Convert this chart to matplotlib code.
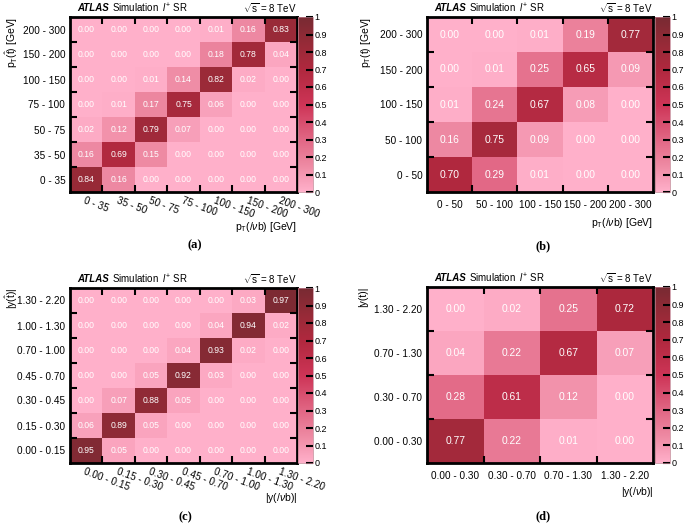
import numpy as np
import matplotlib
matplotlib.use("Agg")
import matplotlib.pyplot as plt
from matplotlib.colors import LinearSegmentedColormap

plt.rcParams["font.family"] = ["Liberation Sans", "DejaVu Sans"]
plt.rcParams["mathtext.fontset"] = "custom"
plt.rcParams["mathtext.rm"] = "Liberation Sans"
plt.rcParams["mathtext.it"] = "Liberation Sans:italic"

# bin labels
pt_bins_a = ["0 - 35", "35 - 50", "50 - 75", "75 - 100", "100 - 150", "150 - 200", "200 - 300"]
pt_bins_b = ["0 - 50", "50 - 100", "100 - 150", "150 - 200", "200 - 300"]
y_bins_c = ["0.00 - 0.15", "0.15 - 0.30", "0.30 - 0.45", "0.45 - 0.70", "0.70 - 1.00", "1.00 - 1.30", "1.30 - 2.20"]
y_bins_d = ["0.00 - 0.30", "0.30 - 0.70", "0.70 - 1.30", "1.30 - 2.20"]

# migration matrices, rows listed from lowest bin (bottom) to highest (top)
mig_a = [
    [0.84, 0.16, 0.00, 0.00, 0.00, 0.00, 0.00],
    [0.16, 0.69, 0.15, 0.00, 0.00, 0.00, 0.00],
    [0.02, 0.12, 0.79, 0.07, 0.00, 0.00, 0.00],
    [0.00, 0.01, 0.17, 0.75, 0.06, 0.00, 0.00],
    [0.00, 0.00, 0.01, 0.14, 0.82, 0.02, 0.00],
    [0.00, 0.00, 0.00, 0.00, 0.18, 0.78, 0.04],
    [0.00, 0.00, 0.00, 0.00, 0.01, 0.16, 0.83],
]
mig_b = [
    [0.70, 0.29, 0.01, 0.00, 0.00],
    [0.16, 0.75, 0.09, 0.00, 0.00],
    [0.01, 0.24, 0.67, 0.08, 0.00],
    [0.00, 0.01, 0.25, 0.65, 0.09],
    [0.00, 0.00, 0.01, 0.19, 0.77],
]
mig_c = [
    [0.95, 0.05, 0.00, 0.00, 0.00, 0.00, 0.00],
    [0.06, 0.89, 0.05, 0.00, 0.00, 0.00, 0.00],
    [0.00, 0.07, 0.88, 0.05, 0.00, 0.00, 0.00],
    [0.00, 0.00, 0.05, 0.92, 0.03, 0.00, 0.00],
    [0.00, 0.00, 0.00, 0.04, 0.93, 0.02, 0.00],
    [0.00, 0.00, 0.00, 0.00, 0.04, 0.94, 0.02],
    [0.00, 0.00, 0.00, 0.00, 0.00, 0.03, 0.97],
]
mig_d = [
    [0.77, 0.22, 0.01, 0.00],
    [0.28, 0.61, 0.12, 0.00],
    [0.04, 0.22, 0.67, 0.07],
    [0.00, 0.02, 0.25, 0.72],
]

cmap = LinearSegmentedColormap.from_list("atlas_pink", [
    (0.00, (255/255, 176/255, 202/255)),
    (0.15, (238/255, 138/255, 163/255)),
    (0.30, (225/255, 102/255, 132/255)),
    (0.50, (205/255, 52/255, 86/255)),
    (0.70, (176/255, 40/255, 62/255)),
    (0.85, (150/255, 42/255, 55/255)),
    (1.00, (120/255, 42/255, 50/255)),
])

W, H = 685.0, 523.0
fig = plt.figure(figsize=(6.85, 5.23), dpi=100)


def box(x0, y0, x1, y1):
    # pixel box -> figure fraction
    return [x0 / W, 1 - y1 / H, (x1 - x0) / W, (y1 - y0) / H]


def panel(ax_px, cb_px, data, xlabs, ylabs, xtitle, ytitle, ytitle_x, xtitle_y,
          letter, letter_x, letter_y, cell_fs, rotate):
    ax = fig.add_axes(box(*ax_px))
    cax = fig.add_axes(box(*cb_px))
    data = np.array(data)
    n = data.shape[1]
    m = data.shape[0]
    mesh = ax.pcolormesh(np.arange(n + 1), np.arange(m + 1), data, cmap=cmap, vmin=0, vmax=1)
    for i in range(m):
        for j in range(n):
            ax.text(j + 0.5, i + 0.5, "%.2f" % data[i, j], ha="center", va="center",
                    color="white", fontsize=cell_fs)
    ax.set_xlim(0, n)
    ax.set_ylim(0, m)
    # boundaries as inner tick marks, labels at bin centres
    ax.set_xticks(np.arange(1, n), minor=False)
    ax.set_yticks(np.arange(1, m), minor=False)
    ax.set_xticklabels([])
    ax.set_yticklabels([])
    ax.tick_params(which="major", direction="in", length=5, width=1.5,
                   top=True, right=True)
    ax.set_xticks(np.arange(n) + 0.5, minor=True)
    ax.set_yticks(np.arange(m) + 0.5, minor=True)
    ax.tick_params(which="minor", length=0, labelsize=7.2)
    ax.set_yticklabels(ylabs, minor=True)
    if rotate:
        ax.set_xticklabels(xlabs, minor=True, rotation=-20, ha="left", va="top",
                           rotation_mode="anchor")
        ax.tick_params(axis="x", which="minor", pad=2.5)
    else:
        ax.set_xticklabels(xlabs, minor=True)
        ax.tick_params(axis="x", which="minor", pad=6)
    for s in ax.spines.values():
        s.set_linewidth(2)

    cb = fig.colorbar(mesh, cax=cax, ticks=np.linspace(0, 1, 11))
    cb.ax.set_yticklabels(["0", "0.1", "0.2", "0.3", "0.4", "0.5", "0.6", "0.7", "0.8", "0.9", "1"])
    cb.ax.tick_params(direction="in", length=5, width=1.5, labelsize=6.5, pad=1)
    cb.outline.set_linewidth(0.5)
    cb.outline.set_edgecolor("#c08090")

    # header
    x0, y0, x1, y1 = ax_px
    fig.text((x0 + 7) / W, 1 - (y0 - 9) / H, "ATLAS", fontsize=7, fontweight="bold",
             fontstyle="italic", ha="left", va="center")
    fig.text((x0 + 42) / W, 1 - (y0 - 9) / H, r"Simulation  $l^{+}$ SR", fontsize=7,
             ha="left", va="center")
    fig.text(x1 / W, 1 - (y0 - 9) / H, r"$\sqrt{\mathrm{s}}$ = 8 TeV", fontsize=7,
             ha="right", va="center")
    # axis titles
    fig.text(ytitle_x / W, 1 - y0 / H, ytitle, rotation=90, ha="center", va="top", fontsize=7.5)
    fig.text(x1 / W, 1 - xtitle_y / H, xtitle, ha="right", va="center", fontsize=7.5)
    fig.text(letter_x / W, 1 - letter_y / H, letter, ha="center", va="center",
             fontsize=9, fontweight="bold", family="Liberation Serif")


ptx = r"p$_{\mathrm{T}}$(/$\nu$b) [GeV]"
yx = r"|y(/$\nu$b)|"

panel((70, 17, 297, 192), (298, 17, 313, 192), mig_a, pt_bins_a, pt_bins_a,
      ptx, r"p$_{\mathrm{T}}$($\hat{\mathrm{t}}$) [GeV]", 12, 227, "(a)", 195, 245, 6.2, True)
panel((427, 17, 653, 192), (655, 17, 670, 192), mig_b, pt_bins_b, pt_bins_b,
      ptx, r"p$_{\mathrm{T}}$(t) [GeV]", 366, 223, "(b)", 543, 246, 7.4, False)
panel((70, 288, 297, 463), (298, 288, 313, 463), mig_c, y_bins_c, y_bins_c,
      yx, r"|y($\hat{\mathrm{t}}$)|", 12, 498, "(c)", 185, 517, 6.2, True)
panel((427, 287, 653, 463), (655, 287, 670, 463), mig_d, y_bins_d, y_bins_d,
      yx, r"|y(t)|", 363, 492, "(d)", 543, 516, 7.4, False)

fig.savefig("out.png", dpi=100)
